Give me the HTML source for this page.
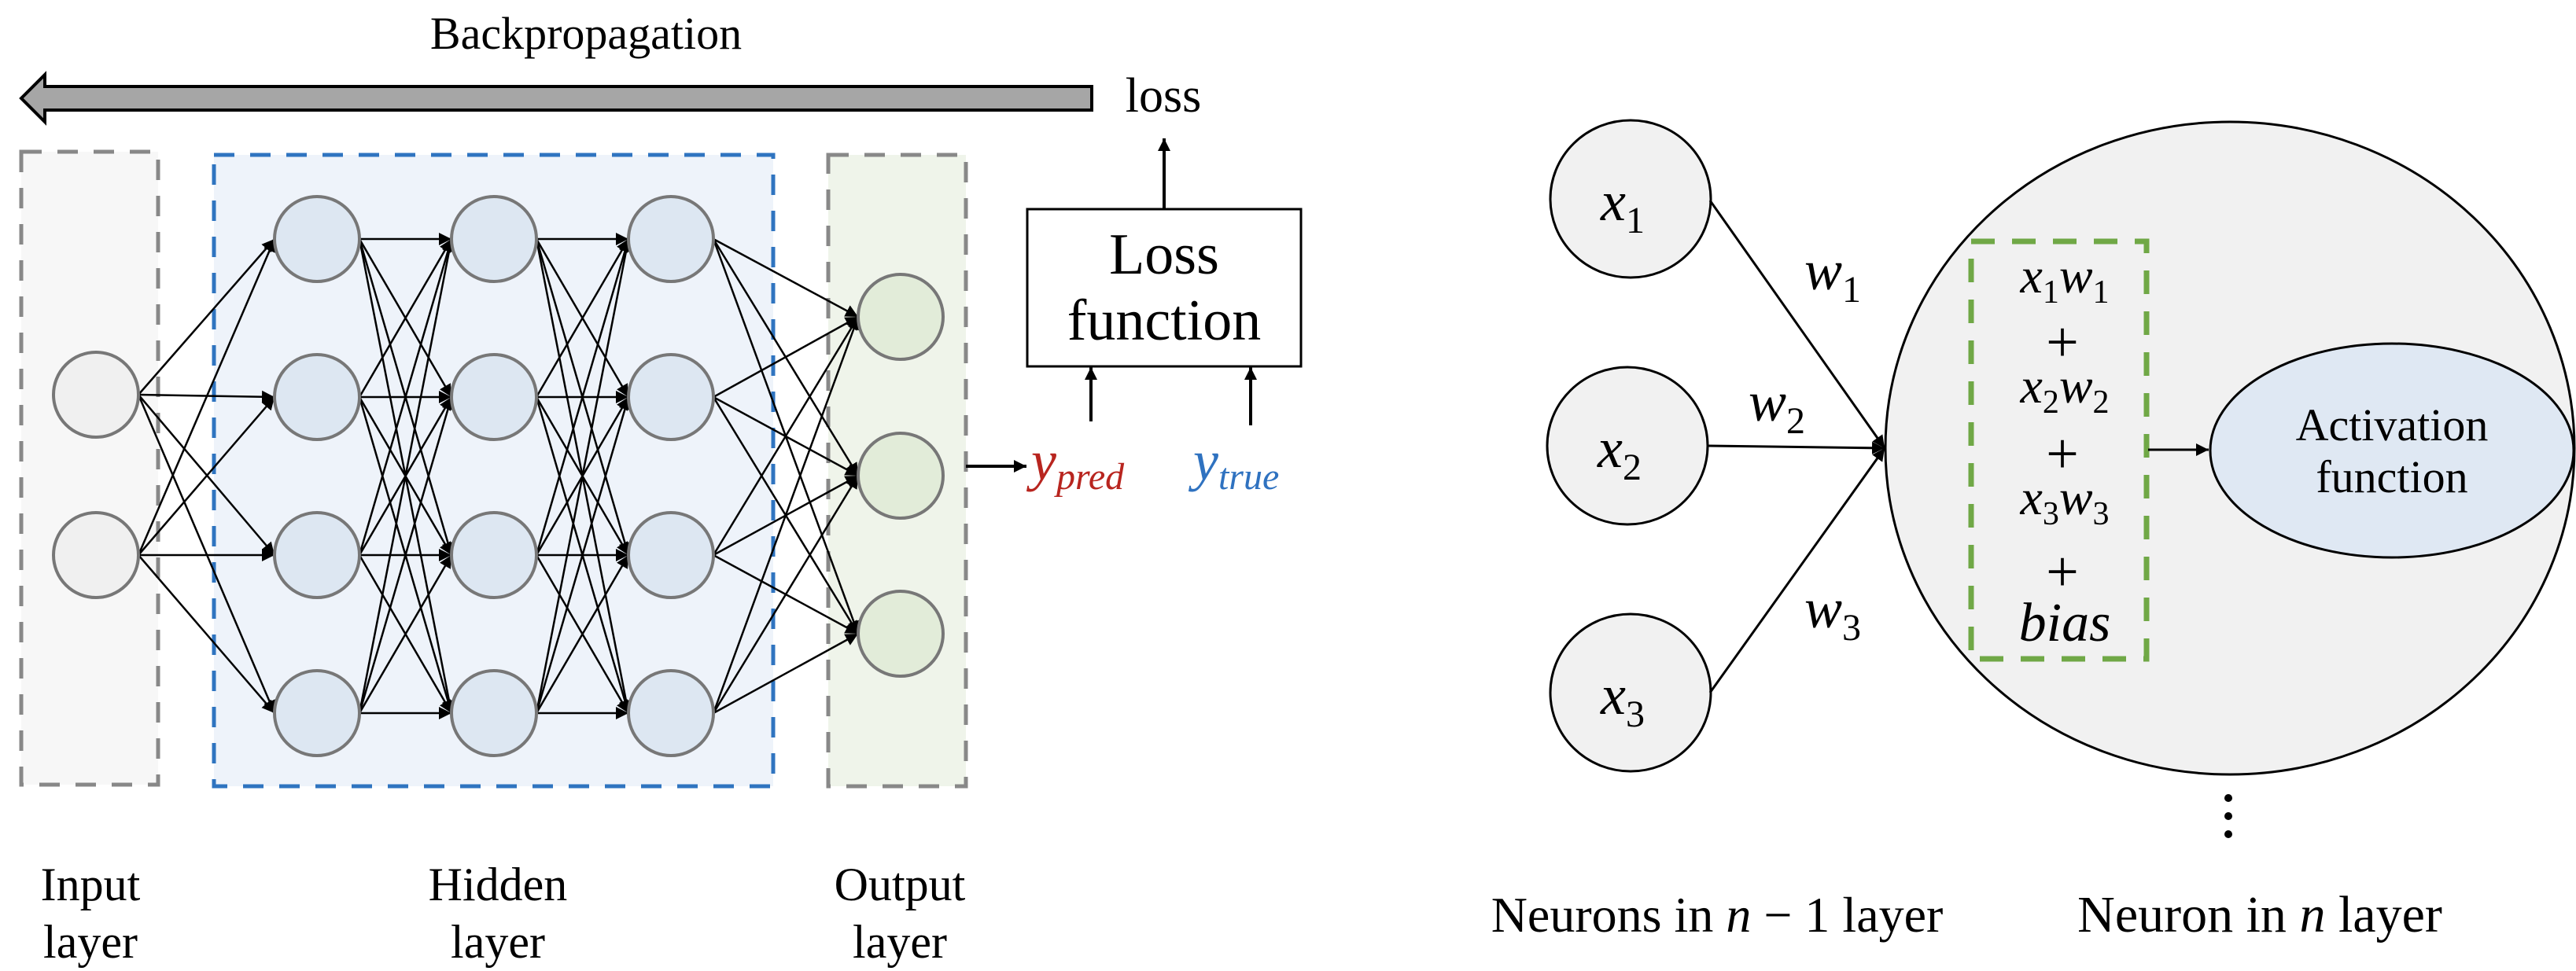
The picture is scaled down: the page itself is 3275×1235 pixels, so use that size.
<!DOCTYPE html>
<html><head><meta charset="utf-8"><style>
html,body{margin:0;padding:0;background:#fff;}
svg{display:block;}
text{font-family:"Liberation Serif",serif;}
.m{font-style:italic;}
</style></head><body>
<svg id="s" width="3275" height="1235" viewBox="0 0 3275 1235" xmlns="http://www.w3.org/2000/svg">
<defs>
<marker id="ah2" viewBox="0 0 10 10" refX="10" refY="5" markerWidth="16" markerHeight="16" markerUnits="userSpaceOnUse" orient="auto"><path d="M0,0 L10,5 L0,10 z" fill="#000"/></marker>
</defs>
<text x="745" y="62" font-size="58" text-anchor="middle">Backpropagation</text>
<polygon points="27,125 57,95 57,110 1388,110 1388,140 57,140 57,155" fill="#a6a6a6" stroke="#000" stroke-width="4"/>
<text x="1479" y="142" font-size="62" text-anchor="middle">loss</text>
<line x1="1480" y1="266" x2="1480" y2="176" stroke="#000" stroke-width="4" marker-end="url(#ah2)"/>
<rect x="1306" y="266" width="348" height="200" fill="#fff" stroke="#000" stroke-width="3"/>
<text x="1480" y="348" font-size="74" text-anchor="middle">Loss</text>
<text x="1480" y="432" font-size="74" text-anchor="middle">function</text>
<line x1="1387" y1="536" x2="1387" y2="467" stroke="#000" stroke-width="4" marker-end="url(#ah2)"/>
<line x1="1590" y1="541" x2="1590" y2="467" stroke="#000" stroke-width="4" marker-end="url(#ah2)"/>
<rect x="27" y="193" width="174" height="805" fill="#f7f7f7" stroke="#888" stroke-width="5" stroke-dasharray="26,20"/>
<rect x="272" y="197" width="711" height="803" fill="#eef3fa" stroke="#2f74c0" stroke-width="5" stroke-dasharray="26,20"/>
<rect x="1053" y="197" width="175" height="803" fill="#eff4ea" stroke="#888" stroke-width="5" stroke-dasharray="26,20"/>
<g id="net"></g>
<line x1="1228" y1="593" x2="1305" y2="593" stroke="#000" stroke-width="4" marker-end="url(#ah2)"/>
<text x="1311" y="610" font-size="72" fill="#b8251f" class="m">y<tspan font-size="48" dy="12">pred</tspan></text>
<text x="1517" y="610" font-size="72" fill="#2f72c0" class="m">y<tspan font-size="48" dy="12">true</tspan></text>
<g font-size="60" text-anchor="middle">
<text x="115" y="1145">Input</text><text x="115" y="1218">layer</text>
<text x="633" y="1145">Hidden</text><text x="633" y="1218">layer</text>
<text x="1144" y="1145">Output</text><text x="1144" y="1218">layer</text>
</g>
<ellipse cx="2835" cy="570" rx="438" ry="415" fill="#f1f1f1" stroke="#000" stroke-width="3"/>
<ellipse cx="2073" cy="253" rx="102" ry="100" fill="#f1f1f1" stroke="#000" stroke-width="3"/>
<ellipse cx="2069" cy="567" rx="102" ry="100" fill="#f1f1f1" stroke="#000" stroke-width="3"/>
<ellipse cx="2073" cy="881" rx="102" ry="100" fill="#f1f1f1" stroke="#000" stroke-width="3"/>
<g font-size="72" class="m" text-anchor="middle">
<text x="2063" y="280">x<tspan font-size="48" dy="16" font-style="normal">1</tspan></text>
<text x="2059" y="594">x<tspan font-size="48" dy="16" font-style="normal">2</tspan></text>
<text x="2063" y="908">x<tspan font-size="48" dy="16" font-style="normal">3</tspan></text>
<text x="2330" y="368">w<tspan font-size="48" dy="16" font-style="normal">1</tspan></text>
<text x="2259" y="535">w<tspan font-size="48" dy="16" font-style="normal">2</tspan></text>
<text x="2330" y="798">w<tspan font-size="48" dy="16" font-style="normal">3</tspan></text>
</g>
<line x1="2174" y1="255" x2="2396" y2="570" stroke="#000" stroke-width="3" marker-end="url(#ah2)"/>
<line x1="2172" y1="567" x2="2396" y2="570" stroke="#000" stroke-width="3" marker-end="url(#ah2)"/>
<line x1="2174" y1="881" x2="2396" y2="570" stroke="#000" stroke-width="3" marker-end="url(#ah2)"/>
<rect x="2506" y="307" width="223" height="531" fill="none" stroke="#70a846" stroke-width="7" stroke-dasharray="30,22"/>
<g font-size="64" text-anchor="middle">
<text x="2625" y="372" class="m">x<tspan font-size="42" dy="13" font-style="normal">1</tspan><tspan dy="-13">w</tspan><tspan font-size="42" dy="13" font-style="normal">1</tspan></text>
<text x="2622" y="460" font-size="74">+</text>
<text x="2625" y="512" class="m">x<tspan font-size="42" dy="13" font-style="normal">2</tspan><tspan dy="-13">w</tspan><tspan font-size="42" dy="13" font-style="normal">2</tspan></text>
<text x="2622" y="602" font-size="74">+</text>
<text x="2625" y="654" class="m">x<tspan font-size="42" dy="13" font-style="normal">3</tspan><tspan dy="-13">w</tspan><tspan font-size="42" dy="13" font-style="normal">3</tspan></text>
<text x="2622" y="752" font-size="74">+</text>
<text x="2625" y="815" class="m" font-size="70">bias</text>
</g>
<line x1="2731" y1="572" x2="2808" y2="572" stroke="#000" stroke-width="3" marker-end="url(#ah2)"/>
<ellipse cx="3041" cy="573" rx="231" ry="136" fill="#dfe8f3" stroke="#000" stroke-width="3"/>
<text x="3041" y="560" font-size="58" text-anchor="middle">Activation</text>
<text x="3041" y="626" font-size="58" text-anchor="middle">function</text>
<circle cx="2833" cy="1015" r="5"/><circle cx="2833" cy="1038" r="5"/><circle cx="2833" cy="1061" r="5"/>
<text x="2183" y="1185" font-size="64" text-anchor="middle">Neurons in <tspan class="m">n</tspan> − 1 layer</text>
<text x="2873" y="1185" font-size="66" text-anchor="middle">Neuron in <tspan class="m">n</tspan> layer</text>
</svg>
<script>
(function(){
var NS="http://www.w3.org/2000/svg",g=document.getElementById("net");
var R=54;
var layers=[
 {x:122,ys:[502,706],f:"#f0f0f0"},
 {x:403,ys:[304,505,706,907],f:"#dde7f2"},
 {x:628,ys:[304,505,706,907],f:"#dde7f2"},
 {x:853,ys:[304,505,706,907],f:"#dde7f2"},
 {x:1145,ys:[403,605,806],f:"#e2ecd9"}];
for(var l=0;l<layers.length-1;l++){var A=layers[l],B=layers[l+1];
 A.ys.forEach(function(ya){B.ys.forEach(function(yb){
  var ln=document.createElementNS(NS,"line");
  ln.setAttribute("x1",A.x+R);ln.setAttribute("y1",ya);
  ln.setAttribute("x2",B.x-R);ln.setAttribute("y2",yb);
  ln.setAttribute("stroke","#000");ln.setAttribute("stroke-width","2.5");
  ln.setAttribute("marker-end","url(#ah2)");g.appendChild(ln);});});}
layers.forEach(function(L){L.ys.forEach(function(y){
 var c=document.createElementNS(NS,"circle");
 c.setAttribute("cx",L.x);c.setAttribute("cy",y);c.setAttribute("r",R);
 c.setAttribute("fill",L.f);c.setAttribute("stroke","#777");c.setAttribute("stroke-width","4");g.appendChild(c);});});
})();
</script>
</body></html>
